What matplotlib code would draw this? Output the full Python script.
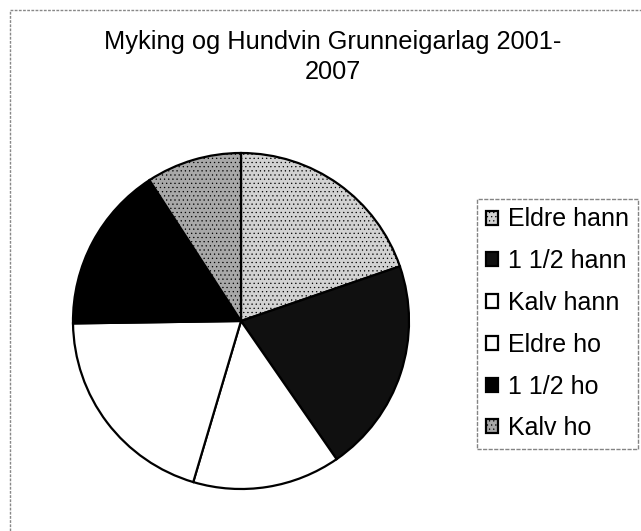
import matplotlib
matplotlib.use("Agg")
import matplotlib.pyplot as plt
from matplotlib.patches import Rectangle

categories = ["Eldre hann", "1 1/2 hann", "Kalv hann", "Eldre ho", "1 1/2 ho", "Kalv ho"]
values = [43, 45, 31, 44, 35, 20]
title = "Myking og Hundvin Grunneigarlag 2001-\n2007"

colors = ["#d2d2d2", "#101010", "#ffffff", "#ffffff", "#000000", "#a8a8a8"]
hatches = ["....", None, None, None, None, "...."]

plt.rcParams['font.family'] = ['Liberation Sans', 'DejaVu Sans']
plt.rcParams['hatch.linewidth'] = 0.4

W, H = 641, 531
fig = plt.figure(figsize=(W / 100, H / 100), dpi=100)
fig.patch.set_facecolor("white")

# outer chart border
fig.add_artist(Rectangle((10 / W, -0.1), 1.2, 1 - 10 / H + 0.1, transform=fig.transFigure,
                         fill=False, edgecolor="#888888", linewidth=1.0, linestyle=(0, (2, 1))))

cx, cy, r = 241, 321, 168
ax = fig.add_axes([(cx - r) / W, 1 - (cy + r) / H, 2 * r / W, 2 * r / H])
wedges, _ = ax.pie(values, startangle=90, counterclock=False, colors=colors,
                   wedgeprops=dict(edgecolor="black", linewidth=1.6, clip_on=False))
for w, h in zip(wedges, hatches):
    if h:
        w.set_hatch(h)
ax.set_aspect("auto")
ax.set_xlim(-1, 1)
ax.set_ylim(-1, 1)
ax.axis("off")

fig.text(333 / W, 1 - 57 / H, title, ha="center", va="center", fontsize=18.3,
         linespacing=1.3)

leg = fig.legend(wedges, categories, loc="upper left",
                 bbox_to_anchor=(477 / W, 1 - 199 / H), borderaxespad=0,
                 fontsize=18, frameon=True, fancybox=False, shadow=False,
                 handlelength=0.48, handleheight=0.48, handletextpad=0.42,
                 labelspacing=0.71, borderpad=0.34)
frame = leg.get_frame()
frame.set_edgecolor("#666666")
frame.set_linewidth(1.0)
frame.set_linestyle((0, (3, 1)))

fig.savefig("out.png", dpi=100, facecolor="white")
